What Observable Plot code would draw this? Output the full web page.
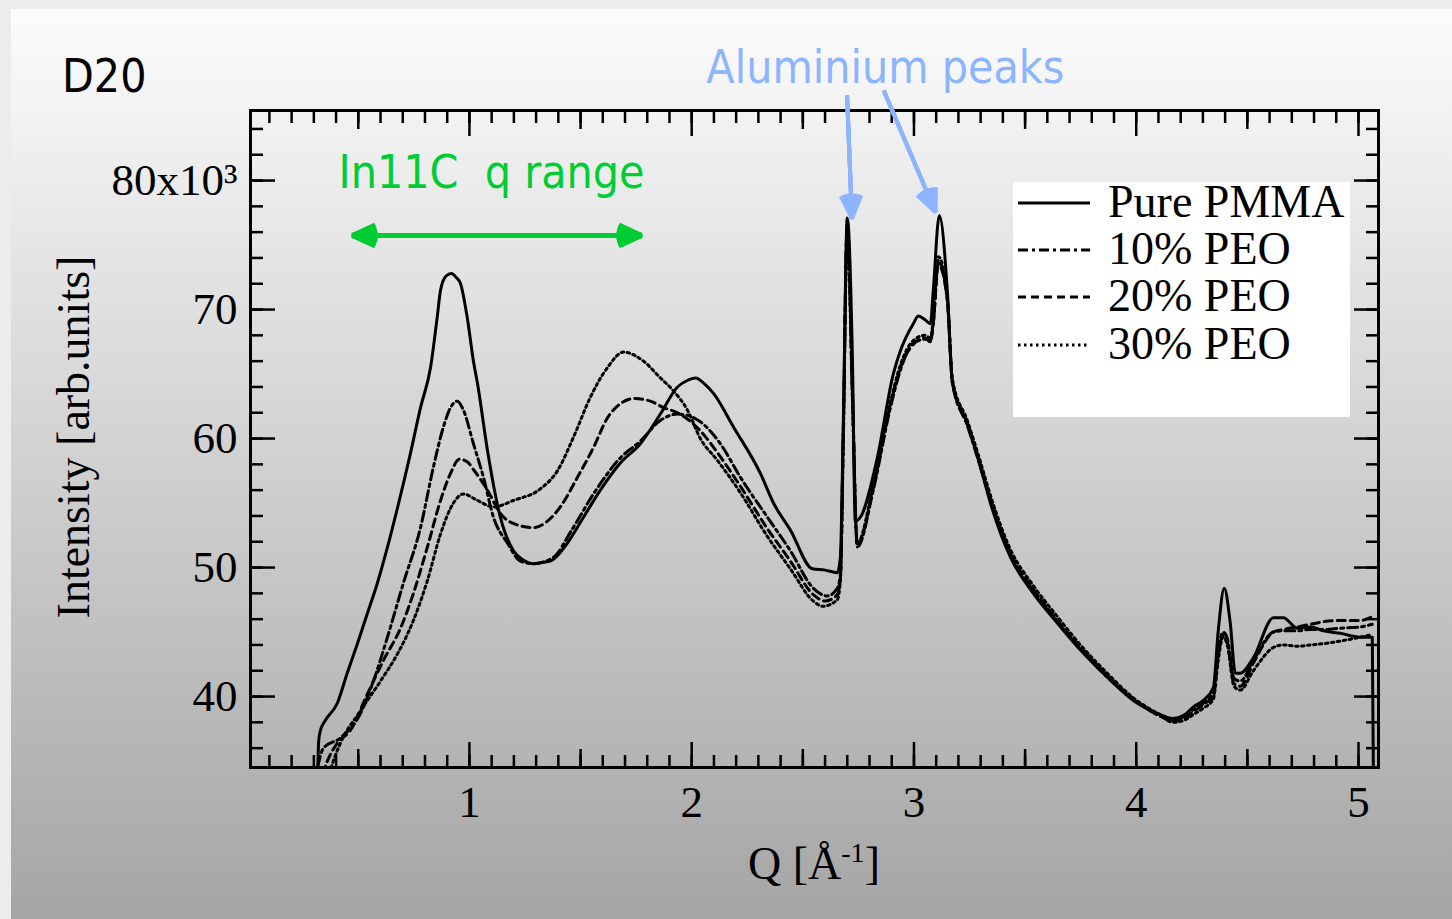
<!DOCTYPE html>
<html>
<head>
<meta charset="utf-8">
<script src="https://cdn.jsdelivr.net/npm/d3@7"></script>
<script src="https://cdn.jsdelivr.net/npm/@observablehq/plot@0.6"></script>
<style>
html, body { margin: 0; padding: 0; }
#page { position: relative; width: 1452px; height: 919px; background: #ececec; overflow: hidden;
  font-family: "Liberation Serif", "Times New Roman", serif; color: #000; }
#panel { position: absolute; left: 11px; top: 9px; width: 1441px; height: 910px;
  background: linear-gradient(to bottom, #fcfcfc 0%, #a5a5a5 100%); }
#chart { position: absolute; left: 0; top: 0; }
.comic { font-family: "DejaVu Sans Condensed", "DejaVu Sans", sans-serif; font-stretch: condensed; }
#title { position: absolute; left: 62px; top: 53px; font-size: 46px; line-height: 46px; white-space: nowrap; }
#ylabel { position: absolute; left: -176px; top: 414px; width: 500px; height: 46px; line-height: 46px;
  font-size: 46px; text-align: center; transform: rotate(-90deg); white-space: nowrap; }
#xlabel { position: absolute; left: 564px; top: 830px; width: 500px; height: 46px; line-height: 46px;
  font-size: 46px; text-align: center; white-space: nowrap; }
#xlabel .sup { font-size: 28px; vertical-align: 17px; }
#legend { position: absolute; left: 1013px; top: 182px; width: 337px; height: 235px; background: #fff; }
.row { position: absolute; left: 0; width: 337px; height: 47px; line-height: 47px; font-size: 46px; white-space: nowrap; }
.row svg { position: absolute; left: 5px; top: 20px; }
.row span { position: absolute; left: 95px; top: 0; }
</style>
</head>
<body>
<div id="page">
  <div id="panel"></div>
  <div id="chart"></div>
  <div id="title" class="comic">D20</div>
  <div id="ylabel">Intensity [arb.units]</div>
  <div id="xlabel">Q [Å<span class="sup">-1</span>]</div>
  <div id="legend"></div>
</div>
<script>
// ---------- data (Q in 1/Å, intensity in 10^3 arb. units) ----------
const seriesNames = ["Pure PMMA", "10% PEO", "20% PEO", "30% PEO"];

const qPMMA = [0.318,0.322,0.330,0.350,0.406,0.450,0.496,0.540,0.586,0.630,0.676,0.730,0.780,0.825,0.855,0.870,0.895,0.919,0.940,0.960,0.990,1.018,1.036,1.081,1.139,1.198,1.240,1.288,1.330,1.364,1.400,1.441,1.513,1.589,1.679,1.769,1.859,1.936,1.980,2.017,2.060,2.098,2.188,2.309,2.368,2.444,2.543,2.600,2.655,2.669,2.682,2.700,2.723,2.736,2.759,2.835,2.907,2.939,2.997,3.020,3.050,3.074,3.087,3.114,3.150,3.173,3.240,3.299,3.344,3.434,3.537,3.645,3.749,3.870,3.987,4.095,4.167,4.220,4.257,4.302,4.347,4.369,4.396,4.423,4.446,4.468,4.527,4.617,4.662,4.725,4.783,4.842,4.918,5.008,5.062,5.067];
const iPMMA = [34.6,36.6,37.4,38.1,39.5,41.8,44.1,46.4,48.8,51.5,54.6,58.5,62.4,65.5,69.4,71.5,72.6,72.8,72.5,72.0,69.4,66.0,64.3,59.1,53.9,51.3,50.6,50.3,50.4,50.5,51.0,51.9,53.9,56.0,58.1,59.6,61.9,64.0,64.5,64.7,64.2,63.5,60.9,57.3,55.0,52.9,49.9,49.8,49.6,50.8,61.2,77.1,66.3,53.6,53.9,58.5,65.0,66.8,68.9,69.5,69.2,68.9,71.5,77.3,71.5,64.3,61.2,57.8,55.0,50.8,48.0,45.7,43.6,41.5,39.7,38.7,38.3,38.6,39.2,39.7,40.7,45.1,48.4,45.7,41.8,41.8,43.0,46.1,46.1,45.3,45.4,45.1,44.9,44.6,44.6,34.0];

const qPEO10 = [0.318,0.343,0.420,0.510,0.568,0.631,0.703,0.780,0.838,0.883,0.915,0.946,0.973,1.018,1.063,1.108,1.171,1.229,1.288,1.378,1.460,1.558,1.679,1.769,1.859,1.936,1.981,2.039,2.129,2.219,2.341,2.444,2.547,2.610,2.655,2.669,2.682,2.700,2.723,2.745,2.817,2.894,2.939,2.997,3.050,3.074,3.087,3.110,3.150,3.173,3.240,3.299,3.344,3.434,3.537,3.645,3.749,3.870,3.987,4.095,4.167,4.220,4.257,4.302,4.347,4.369,4.390,4.410,4.440,4.468,4.527,4.617,4.662,4.725,4.783,4.842,4.918,5.008,5.062];
const iPEO10 = [34.6,36.0,36.8,38.7,41.2,44.6,48.8,53.1,57.8,60.9,62.4,62.9,62.2,59.6,57.0,53.9,51.9,50.5,50.3,50.8,52.9,55.7,58.5,59.8,61.4,61.9,61.8,61.3,59.6,57.0,53.9,51.3,48.4,47.8,48.4,49.5,60.5,76.5,64.0,51.6,56.0,62.4,65.3,67.4,67.7,67.6,68.9,73.8,70.7,64.3,61.0,57.8,55.2,51.0,48.2,45.8,43.7,41.5,39.8,38.6,38.2,38.5,39.0,39.5,40.3,43.5,45.0,44.5,41.4,41.2,42.8,45.0,45.1,45.1,45.2,45.2,45.3,45.4,45.6];

const qPEO20 = [0.340,0.361,0.406,0.465,0.541,0.613,0.690,0.748,0.811,0.870,0.915,0.955,0.990,1.018,1.081,1.139,1.216,1.288,1.351,1.409,1.486,1.558,1.621,1.679,1.738,1.814,1.873,1.936,2.039,2.116,2.219,2.341,2.444,2.547,2.600,2.655,2.669,2.682,2.700,2.723,2.745,2.817,2.894,2.939,2.997,3.050,3.074,3.087,3.110,3.150,3.173,3.240,3.299,3.344,3.434,3.537,3.645,3.749,3.870,3.987,4.095,4.167,4.220,4.257,4.302,4.347,4.369,4.390,4.410,4.440,4.468,4.527,4.617,4.662,4.725,4.783,4.842,4.918,5.008,5.062];
const iPEO20 = [34.0,35.0,36.4,37.4,40.2,42.8,45.3,48.0,51.6,55.2,57.3,58.4,58.2,57.6,56.0,54.2,53.3,53.1,53.6,54.7,57.0,59.3,61.6,62.7,63.1,62.9,62.4,62.0,60.6,58.9,56.3,53.0,50.5,47.9,47.4,47.9,49.2,60.0,76.8,63.5,51.7,56.2,62.6,65.5,67.3,67.8,67.5,69.0,73.5,70.8,64.4,61.1,57.9,55.3,51.1,48.3,45.9,43.8,41.6,39.8,38.6,38.1,38.3,38.8,39.4,40.0,43.2,44.8,44.2,41.0,40.8,42.6,45.0,45.2,45.4,45.6,45.8,45.9,45.9,46.2];

const qPEO30 = [0.370,0.384,0.420,0.510,0.600,0.676,0.748,0.811,0.870,0.928,0.973,1.036,1.108,1.198,1.319,1.396,1.468,1.544,1.621,1.693,1.783,1.859,1.918,1.981,2.039,2.116,2.219,2.341,2.444,2.547,2.590,2.655,2.669,2.682,2.700,2.723,2.745,2.817,2.894,2.939,2.997,3.050,3.074,3.087,3.110,3.150,3.173,3.240,3.299,3.344,3.434,3.537,3.645,3.749,3.870,3.987,4.095,4.167,4.220,4.257,4.302,4.347,4.369,4.390,4.410,4.440,4.468,4.527,4.617,4.662,4.725,4.783,4.842,4.918,5.008,5.062];
const iPEO30 = [34.0,34.8,36.4,38.9,41.2,43.3,45.9,49.0,52.6,55.0,55.7,55.2,54.7,55.2,56.1,57.5,60.1,63.2,65.5,66.7,66.0,64.7,63.7,62.2,60.0,58.3,55.8,52.4,49.9,47.4,47.0,47.5,49.0,59.5,76.2,63.0,51.9,56.4,62.8,65.7,67.6,68.0,67.8,69.3,74.1,71.0,64.6,61.4,58.2,55.6,51.4,48.6,46.2,44.0,41.8,39.9,38.7,38.0,38.2,38.6,39.1,39.8,42.8,44.6,44.0,40.8,40.5,42.0,43.8,44.0,43.9,44.0,44.1,44.3,44.6,44.8];

// tick values
const xTicksMajor = [1, 2, 3, 4, 5];
const xTicksHalf = [0.5, 1.5, 2.5, 3.5, 4.5];
const xTicksMinor = d3.range(1, 51).map(k => k / 10);
const yTicksMajor = [40, 50, 60, 70, 80];
const yTicksMinor = d3.range(36, 86, 2);

// annotations (data coordinates)
const annotationTexts = [
  {q: 0.411, i: 79.46, text: "In11C\u00a0 q range", color: "#00cc33"},
  {q: 2.066, i: 87.60, text: "Aluminium peaks", color: "#8db4ff"}
];
const greenArrows = [
  {q1: 1.124, i1: 75.74, q2: 0.474, i2: 75.74},
  {q1: 1.124, i1: 75.74, q2: 1.774, i2: 75.74}
];
const blueArrows = [
  {q1: 2.699, i1: 86.59, q2: 2.721, i2: 77.05},
  {q1: 2.864, i1: 86.98, q2: 3.097, i2: 77.54}
];

// ---------- build table ----------
const seriesData = [
  {name: seriesNames[0], q: qPMMA, i: iPMMA},
  {name: seriesNames[1], q: qPEO10, i: iPEO10},
  {name: seriesNames[2], q: qPEO20, i: iPEO20},
  {name: seriesNames[3], q: qPEO30, i: iPEO30}
];
const table = seriesData.flatMap(s => s.q.map((q, k) => ({name: s.name, q, i: s.i[k]})));

const dashOf = {
  "Pure PMMA": null,
  "10% PEO": "10,4,3,4",
  "20% PEO": "8,5",
  "30% PEO": "2.5,3.5"
};

const fmtY = d => d === 80 ? "80x10³" : String(d);
const tickStyle = {strokeWidth: 2.5, fill: "none", label: null};

function arrowLayers(data, color, sw, headLength, angles) {
  return angles.map(a => Plot.arrow(data, {
    x1: "q1", y1: "i1", x2: "q2", y2: "i2",
    stroke: color, strokeWidth: sw, headLength, headAngle: a, strokeLinecap: "butt"
  }));
}

const chart = Plot.plot({
  width: 1452,
  height: 919,
  marginLeft: 250,
  marginRight: 74,
  marginTop: 110,
  marginBottom: 152,
  style: {background: "transparent", overflow: "visible", fontFamily: "'Liberation Serif', 'Times New Roman', serif", color: "#000"},
  x: {domain: [0.015, 5.09]},
  y: {domain: [34.5, 85.43]},
  marks: [
    ...seriesNames.map(n => Plot.line(table.filter(d => d.name === n), {
      x: "q", y: "i", stroke: "#000", strokeWidth: 3,
      strokeDasharray: dashOf[n], curve: "monotone-x", clip: true
    })),
    Plot.frame({stroke: "#000", strokeWidth: 3}),
    // ticks, all pointing inwards
    Plot.axisX(xTicksMinor, {anchor: "bottom", tickSize: -12, ...tickStyle}),
    Plot.axisX(xTicksHalf, {anchor: "bottom", tickSize: -18, ...tickStyle}),
    Plot.axisX(xTicksMajor, {anchor: "bottom", tickSize: -25, ...tickStyle}),
    Plot.axisX(xTicksMinor, {anchor: "top", tickSize: -12, ...tickStyle}),
    Plot.axisX(xTicksHalf, {anchor: "top", tickSize: -18, ...tickStyle}),
    Plot.axisX(xTicksMajor, {anchor: "top", tickSize: -25, ...tickStyle}),
    Plot.axisY(yTicksMinor, {anchor: "left", tickSize: -13, ...tickStyle}),
    Plot.axisY(yTicksMajor, {anchor: "left", tickSize: -25, ...tickStyle}),
    Plot.axisY(yTicksMinor, {anchor: "right", tickSize: -13, ...tickStyle}),
    Plot.axisY(yTicksMajor, {anchor: "right", tickSize: -25, ...tickStyle}),
    // tick labels
    Plot.axisX(xTicksMajor, {anchor: "bottom", tickSize: 0, tickPadding: 18, fontSize: 45, label: null, tickFormat: d => String(d)}),
    Plot.axisY(yTicksMajor, {anchor: "left", tickSize: 0, tickPadding: 13, fontSize: 45, label: null, tickFormat: fmtY}),
    // annotations
    ...arrowLayers(greenArrows, "#00cc33", 5, 7.5, [50, 36, 22, 8]),
    ...arrowLayers(blueArrows, "#8db4ff", 4, 9.4, [48, 34, 20, 6]),
    Plot.text(annotationTexts, {
      x: "q", y: "i", text: "text", fill: "color", textAnchor: "start", lineAnchor: "bottom",
      fontSize: 46, fontFamily: "'DejaVu Sans Condensed', 'DejaVu Sans', sans-serif"
    })
  ]
});
document.getElementById("chart").appendChild(chart);

// ---------- legend ----------
const legend = document.getElementById("legend");
seriesNames.forEach((n, k) => {
  const row = document.createElement("div");
  row.className = "row";
  row.style.top = (-4 + k * 47.2) + "px";
  const dash = dashOf[n] ? ` stroke-dasharray="${dashOf[n]}"` : "";
  row.innerHTML = `<svg width="72" height="10"><line x1="0" y1="5" x2="72" y2="5" stroke="#000" stroke-width="3"${dash}/></svg><span>${n}</span>`;
  legend.appendChild(row);
});
</script>
</body>
</html>
